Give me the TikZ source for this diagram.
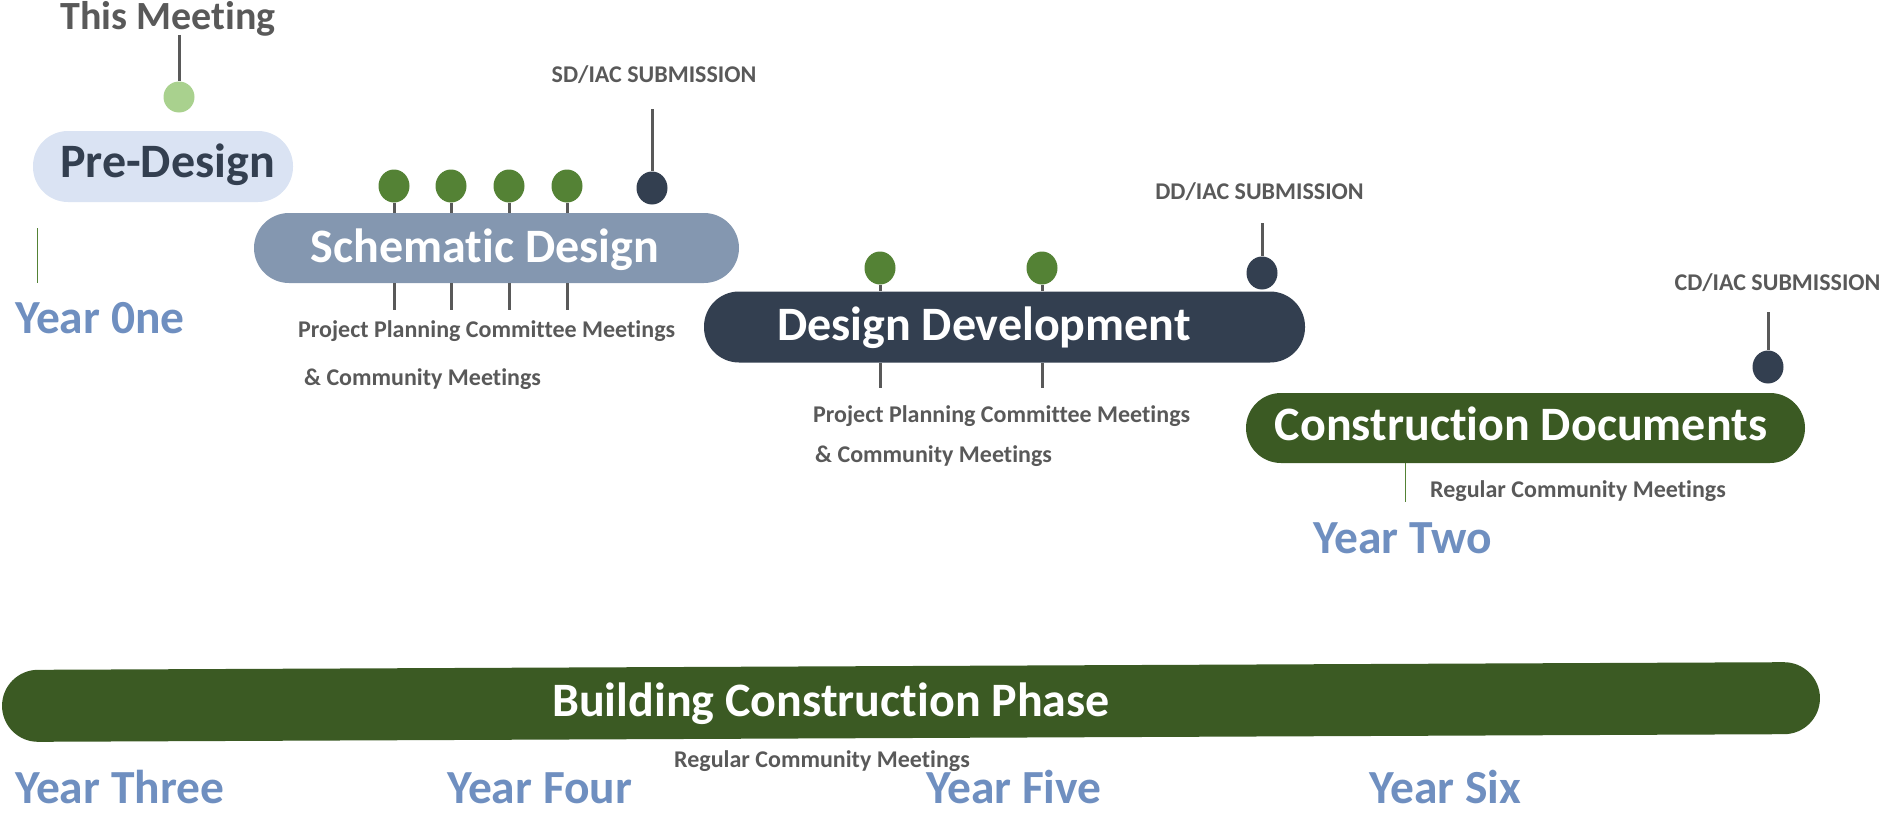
\documentclass[tikz,border=0pt]{standalone}
\usepackage{fontspec}
\setmainfont{Carlito}[Ligatures=NoCommon]
\usetikzlibrary{shapes.geometric}
\definecolor{preFill}{HTML}{DAE3F3}
\definecolor{sdFill}{HTML}{8497B0}
\definecolor{navy}{HTML}{333F50}
\definecolor{cdGreen}{HTML}{3B5A23}
\definecolor{dotGreen}{HTML}{548235}
\definecolor{lightGreen}{HTML}{A9D18E}
\definecolor{stemgray}{HTML}{595959}
\definecolor{textgray}{HTML}{595959}
\definecolor{yearblue}{HTML}{6F8FC0}
\definecolor{lineGreen}{HTML}{548235}
\begin{document}
\begin{tikzpicture}[x=1pt,y=-1pt,
  pill/.style={inner sep=0pt, draw=none},
  dot/.style={ellipse, inner sep=0pt, minimum width=31pt, minimum height=33pt, draw=none},
  stem/.style={draw=stemgray, line width=3pt},
  thinline/.style={draw=lineGreen, line width=1pt},
  pilltext/.style={anchor=base, text=white, font=\bfseries\fontsize{48}{52}\selectfont, inner sep=0pt},
  small/.style={anchor=base west, text=textgray, font=\bfseries\fontsize{24}{28}\selectfont, inner sep=0pt},
  sub/.style={anchor=base, text=textgray, font=\bfseries\fontsize{24}{28}\selectfont, inner sep=0pt},
  year/.style={anchor=base west, text=yearblue, font=\bfseries\fontsize{47.5}{52}\selectfont, inner sep=0pt},
]
\path[use as bounding box] (0,0) rectangle (1898,816);

% pills
\node[pill, fill=preFill, minimum width=260pt, minimum height=71pt, rounded corners=35pt] (pre) at (163,166.5) {};
\node[pilltext, text=navy] (pret) at (167.5,177) {Pre-Design};
\node[pill, fill=sdFill, minimum width=485pt, minimum height=70pt, rounded corners=35pt] (sd) at (496.5,248) {};
\node[pilltext] (sdt) at (485,262) {Schematic Design};
\node[pill, fill=navy, minimum width=601pt, minimum height=71pt, rounded corners=35pt] (dd) at (1004.5,327) {};
\node[pilltext] (ddt) at (984,340) {Design Development};
\node[pill, fill=cdGreen, minimum width=559pt, minimum height=70pt, rounded corners=35pt] (cd) at (1525.5,428) {};
\node[pilltext] (cdt) at (1521,440) {Construction Documents};
\node[pill, fill=cdGreen, minimum width=1818pt, minimum height=72pt, rounded corners=36pt, rotate=0.25] (bc) at (911,702) {};
\node[pilltext] (bct) at (831,716) {Building Construction Phase};

% this meeting
\node[anchor=base, text=textgray, font=\bfseries\fontsize{40}{44}\selectfont, inner sep=0pt] (tmt) at (168,30) {This Meeting};
\coordinate (tmtop) at (179,35);
\node[dot, fill=lightGreen, minimum height=31pt] (tm) at (179,97) {};
\draw[stem] (tmtop) -- (tm.north);

% schematic design meetings
\foreach \i/\x in {1/394,2/451,3/509,4/567}{
  \node[dot, fill=dotGreen] (g\i) at (\x,186) {};
  \coordinate (b\i) at (\x,310);
  \draw[stem] (g\i.south) -- (sd.north -| g\i);
  \draw[stem] (sd.south -| g\i) -- (b\i);
}
\node[dot, fill=navy] (sdsub) at (652,188) {};
\coordinate (sdsubtop) at (652,109);
\draw[stem] (sdsubtop) -- (sdsub.north);
\node[sub] (sdsubt) at (654,82) {SD/IAC SUBMISSION};
\node[small] (sdm1) at (298,337) {Project Planning Committee Meetings};
\node[small] (sdm2) at (304,385) {\& Community Meetings};

% design development meetings
\foreach \i/\x in {5/880,6/1042}{
  \node[dot, fill=dotGreen] (g\i) at (\x,268) {};
  \coordinate (b\i) at (\x,388);
  \draw[stem] (g\i.south) -- (dd.north -| g\i);
  \draw[stem] (dd.south -| g\i) -- (b\i);
}
\node[dot, fill=navy] (ddsub) at (1262,273) {};
\coordinate (ddsubtop) at (1262,223);
\draw[stem] (ddsubtop) -- (ddsub.north);
\node[sub] (ddsubt) at (1259.5,199) {DD/IAC SUBMISSION};
\node[small] (ddm1) at (813,422) {Project Planning Committee Meetings};
\node[small] (ddm2) at (815,462) {\& Community Meetings};

% construction documents
\node[dot, fill=navy] (cdsub) at (1768,367) {};
\coordinate (cdsubtop) at (1768,312);
\draw[stem] (cdsubtop) -- (cdsub.north);
\node[sub] (cdsubt) at (1777.5,290) {CD/IAC SUBMISSION};
\coordinate (cdl) at (1405,502);
\draw[thinline] (cd.south -| cdl) -- (cdl);
\node[small] (cdm) at (1430,497) {Regular Community Meetings};

% building
\node[small] (bcm) at (674,767) {Regular Community Meetings};

% year one line
\coordinate (yl1) at (37,228);
\coordinate (yl2) at (37,283);
\draw[thinline] (yl1) -- (yl2);

% years
\node[year] (y1) at (15,333) {Year 0ne};
\node[year] (y2) at (1313,553) {Year Two};
\node[year] (y3) at (15,803) {Year Three};
\node[year] (y4) at (447,803) {Year Four};
\node[year] (y5) at (926,803) {Year Five};
\node[year] (y6) at (1369,803) {Year Six};
\end{tikzpicture}
\end{document}
